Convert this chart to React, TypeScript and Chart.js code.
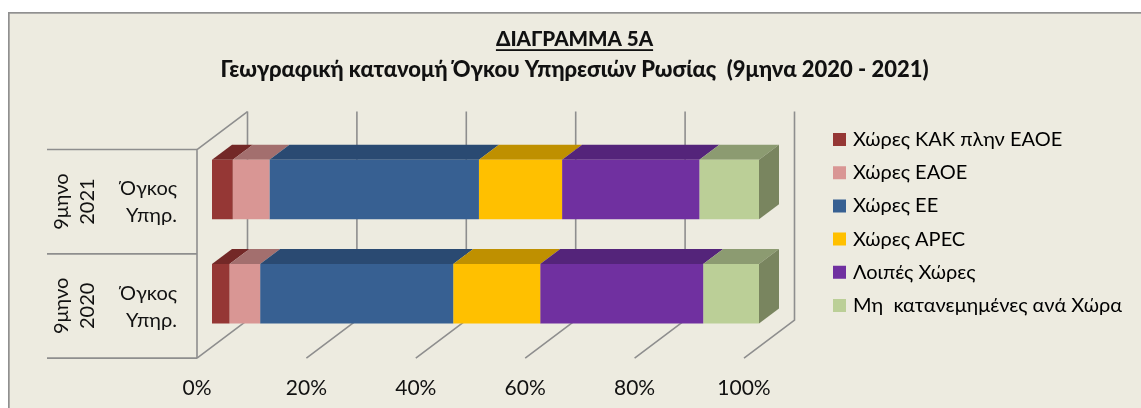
import React, { useEffect, useRef } from "react";
import { Chart, registerables } from "chart.js";

Chart.register(...registerables);

const periods = ["9μηνο 2021", "9μηνο 2020"];
const outerLabels = [["9μηνο", "2021"], ["9μηνο", "2020"]];
const innerLabels = [["Όγκος", "Υπηρ."], ["Όγκος", "Υπηρ."]];
const seriesNames = ["Χώρες ΚΑΚ πλην ΕΑΟΕ", "Χώρες ΕΑΟΕ", "Χώρες ΕΕ", "Χώρες APEC", "Λοιπές Χώρες", "Μη  κατανεμημένες ανά Χώρα"];
const cisValues = [3.8, 3.2];
const eaoeValues = [6.7, 5.6];
const euValues = [38.3, 35.3];
const apecValues = [15.2, 15.9];
const otherValues = [25.1, 29.8];
const unallocatedValues = [10.9, 10.2];
const frontColors = ["#953735", "#D99694", "#376092", "#FFC000", "#7030A0", "#BBCF97"];
const topColors = ["#732827", "#A36F6E", "#2A4A72", "#BF9000", "#54247A", "#8C9B71"];
const sideColor = "#79855F";
const xTicks = [0, 20, 40, 60, 80, 100];
const titleText = "ΔΙΑΓΡΑΜΜΑ 5Α";
const subtitleText = "Γεωγραφική κατανομή Όγκου Υπηρεσιών Ρωσίας  (9μηνα 2020 - 2021)";

const FONT = "Lato, 'Noto Sans', sans-serif";
const GRID = "#8E8E8E";

const scene = {
  id: "scene",
  beforeLayout(chart: any) {
    const l = chart.legend;
    if (l && !l.__wrapped) {
      const fit = l.fit;
      l.fit = function () {
        fit.call(this);
        this.width = 382;
      };
      l.__wrapped = true;
    }
  },
  afterLayout(chart: any) {
    const l = chart.legend;
    if (l) {
      l.left = 836 - l.options.labels.padding;
      l.right = 1141;
      l.top = 129.5 - l.options.labels.padding;
      l.bottom = 400;
    }
  },
  beforeDraw(chart: any) {
    const c = chart.ctx;
    c.save();
    c.fillStyle = "#fff";
    c.fillRect(0, 0, chart.width, chart.height);
    c.fillStyle = "#909090";
    c.fillRect(8, 12, 1200, 500);
    c.fillStyle = "#EDEBE0";
    c.fillRect(9.7, 13.7, 1200, 500);
    c.restore();
  },
  beforeDatasetsDraw(chart: any) {
    const c = chart.ctx;
    const x = chart.scales.x;
    const y = chart.scales.y;
    const bandTop = y.getPixelForValue(0) - 40;
    const bandH = y.getPixelForValue(1) - y.getPixelForValue(0);
    const floorY = bandTop + bandH * 2;
    const dx = 50.5;
    const dy = 38;
    c.save();
    c.strokeStyle = GRID;
    c.lineWidth = 1.6;
    // back-wall and floor gridlines
    xTicks.forEach((v) => {
      const fx = x.getPixelForValue(v) - 15;
      c.beginPath();
      c.moveTo(fx, floorY);
      c.lineTo(fx + dx, floorY - dy);
      c.lineTo(fx + dx, bandTop - dy);
      c.stroke();
    });
    // left wall
    const lx = x.getPixelForValue(0) - 15;
    c.beginPath();
    c.moveTo(lx, floorY);
    c.lineTo(lx, bandTop);
    c.lineTo(lx + dx, bandTop - dy);
    c.stroke();
    // category separators
    for (let i = 0; i <= periods.length; i++) {
      const yy = bandTop + bandH * i;
      c.beginPath();
      c.moveTo(47, yy);
      c.lineTo(lx, yy);
      c.stroke();
    }
    // outer category labels (rotated)
    c.fillStyle = "#111";
    c.font = `20px ${FONT}`;
    c.textAlign = "center";
    c.textBaseline = "middle";
    outerLabels.forEach((lines, i) => {
      const cy = y.getPixelForValue(i) + 12;
      lines.forEach((t, k) => {
        c.save();
        c.translate(62 + k * 26, cy);
        c.rotate(-Math.PI / 2);
        c.fillText(t, 0, 0);
        c.restore();
      });
    });
    // 3D faces of the bars
    const ox = 20;
    const oy = 15;
    chart.data.datasets.forEach((ds: any, di: number) => {
      chart.getDatasetMeta(di).data.forEach((b: any) => {
        const top = b.y - b.height / 2;
        c.fillStyle = topColors[di];
        c.beginPath();
        c.moveTo(b.base, top);
        c.lineTo(b.base + ox, top - oy);
        c.lineTo(b.x + ox, top - oy);
        c.lineTo(b.x, top);
        c.closePath();
        c.fill();
        if (di === chart.data.datasets.length - 1) {
          c.fillStyle = sideColor;
          c.beginPath();
          c.moveTo(b.x, top);
          c.lineTo(b.x + ox, top - oy);
          c.lineTo(b.x + ox, top - oy + b.height);
          c.lineTo(b.x, top + b.height);
          c.closePath();
          c.fill();
        }
      });
    });
    c.restore();
  },
  afterDraw(chart: any) {
    const c = chart.ctx;
    const t = chart.titleBlock;
    if (!t) return;
    c.save();
    c.font = `900 20.5px ${FONT}`;
    const w = c.measureText(titleText).width;
    const cx = t.left + t.width / 2;
    c.fillStyle = "#111";
    c.fillRect(cx - w / 2, 49.2, w, 1.8);
    c.restore();
  },
};

export default function App() {
  const ref = useRef<HTMLCanvasElement | null>(null);
  useEffect(() => {
    const valuesList = [cisValues, eaoeValues, euValues, apecValues, otherValues, unallocatedValues];
    const chart = new Chart(ref.current as HTMLCanvasElement, {
      type: "bar",
      data: {
        labels: innerLabels as any,
        datasets: seriesNames.map((name, i) => ({
          label: name,
          data: valuesList[i],
          backgroundColor: frontColors[i],
          borderWidth: 0,
          barPercentage: 0.57,
          categoryPercentage: 1,
        })),
      },
      options: {
        indexAxis: "y",
        responsive: false,
        animation: false,
        layout: { padding: { left: 8, top: 12, right: 0, bottom: 0 } },
        scales: {
          x: {
            stacked: true,
            min: 0,
            max: 100,
            grid: { display: false, drawTicks: false },
            border: { display: false },
            afterFit(s: any) {
              s.height = 61.4;
            },
            afterBuildTicks(s: any) {
              s.ticks = xTicks.map((value) => ({ value }));
            },
            ticks: {
              maxRotation: 0,
              padding: 30,
              labelOffset: -15,
              color: "#111",
              font: { family: FONT, size: 21 },
              callback: (v: any) => `${v}%`,
            },
          },
          y: {
            stacked: true,
            grid: { display: false, drawTicks: false },
            border: { display: false },
            afterFit(s: any) {
              s.width = 204;
            },
            ticks: {
              padding: 35,
              labelOffset: 13,
              color: "#111",
              font: { family: FONT, size: 20, lineHeight: 1.35 },
            },
          },
        },
        plugins: {
          title: {
            display: true,
            text: titleText,
            color: "#111",
            font: { family: FONT, size: 20.5, weight: "900", lineHeight: 1.15 },
            padding: { top: 16, bottom: 0 },
          },
          subtitle: {
            display: true,
            text: subtitleText,
            color: "#111",
            font: { family: FONT, size: 22, weight: "900", lineHeight: 1.1 },
            padding: { top: 6, bottom: 55.6 },
          },
          tooltip: { enabled: false },
          legend: {
            display: true,
            position: "right",
            align: "start",
            labels: {
              boxWidth: 7,
              boxHeight: 7,
              padding: 13.2,
              color: "#111",
              font: { family: FONT, size: 20 },
              generateLabels: (c: any) =>
                c.data.datasets.map((ds: any, i: number) => ({
                  text: ds.label,
                  fillStyle: ds.backgroundColor,
                  strokeStyle: ds.backgroundColor,
                  lineWidth: 6,
                  datasetIndex: i,
                })),
            },
          },
        },
      },
      plugins: [scene],
    } as any);
    return () => chart.destroy();
  }, []);
  return (
    <canvas
      ref={ref}
      width={1141}
      height={408}
      style={{ position: "absolute", left: 0, top: 0, display: "block" }}
    />
  );
}
